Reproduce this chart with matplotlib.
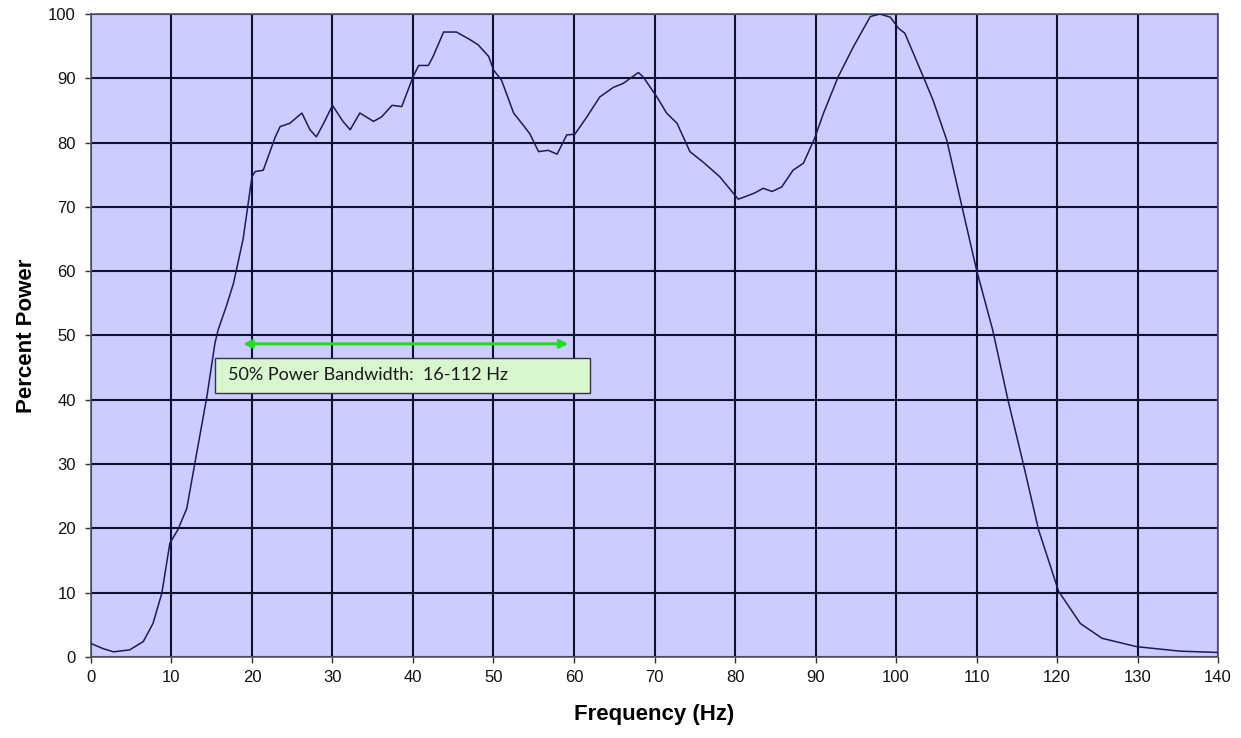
import matplotlib
matplotlib.use("Agg")
import matplotlib.pyplot as plt
from matplotlib.patches import FancyBboxPatch

# Data
freq_hz = [0, 1.5, 2.8, 4.8, 6.5, 7.7, 8.8, 9.8, 10.8, 11.9, 12.9, 14.4, 15.4, 15.8,
           16.8, 17.7, 18.9, 20.0, 20.4, 21.4, 22.9, 23.5, 24.7, 26.2, 27.2, 28.0,
           28.9, 30.0, 31.3, 32.2, 33.4, 35.1, 36.1, 37.4, 38.6, 40.0, 40.7, 41.9,
           42.5, 43.8, 45.4, 47.1, 48.1, 49.4, 50.0, 51.0, 52.5, 53.7, 54.5, 55.6,
           56.8, 57.9, 59.1, 60.1, 61.6, 63.2, 64.9, 66.1, 68.0, 68.6, 70.3, 71.5,
           72.8, 74.4, 76.1, 78.1, 80.4, 81.5, 82.5, 83.5, 84.6, 85.8, 87.2, 88.5,
           89.9, 91.0, 92.8, 94.7, 96.8, 98.0, 99.3, 100.3, 101.1, 103.4, 104.6,
           106.3, 108.2, 110.0, 112.0, 113.9, 115.8, 117.7, 120.2, 122.9, 125.6,
           129.9, 135.3, 140.0]
percent_power = [2.1, 1.3, 0.8, 1.1, 2.4, 5.2, 9.9, 17.7, 19.8, 23.1, 30.1, 40.5, 48.8, 50.9,
                 54.5, 58.1, 65.0, 74.7, 75.5, 75.7, 80.9, 82.5, 83.0, 84.6, 82.0, 80.9,
                 83.0, 85.8, 83.3, 82.0, 84.6, 83.3, 84.0, 85.8, 85.6, 90.2, 92.0, 92.0,
                 93.4, 97.2, 97.2, 96.0, 95.2, 93.4, 91.3, 89.7, 84.6, 82.7, 81.4, 78.6,
                 78.8, 78.2, 81.2, 81.3, 84.0, 87.1, 88.6, 89.2, 90.9, 90.2, 87.1, 84.6,
                 83.0, 78.6, 76.9, 74.7, 71.2, 71.7, 72.2, 72.9, 72.4, 73.1, 75.7, 76.8,
                 80.7, 84.6, 90.2, 94.9, 99.6, 100.0, 99.5, 97.8, 97.0, 90.2, 86.6,
                 80.4, 70.0, 60.2, 50.9, 40.0, 30.1, 19.8, 10.2, 5.2, 2.9,
                 1.6, 0.9, 0.7]

x_ticks = list(range(0, 141, 10))
y_ticks = list(range(0, 101, 10))
annotation_text = "50% Power Bandwidth:  16-112 Hz"
arrow_x = [18.9, 59.3]
arrow_y = 48.7

fig = plt.figure(figsize=(12.41, 7.38), dpi=100)
ax = fig.add_axes([0.0733, 0.1098, 0.9082, 0.8712])
ax.set_facecolor("#ccccff")

ax.plot(freq_hz, percent_power, color="#1a1a5e", lw=1.1, zorder=3)

ax.set_xlim(0, 140)
ax.set_ylim(0, 100)
ax.set_xticks(x_ticks)
ax.set_yticks(y_ticks)
ax.grid(True, color="#10102e", lw=1.5, zorder=1)
ax.set_axisbelow(True)

for s in ax.spines.values():
    s.set_color("#555566")
    s.set_linewidth(1.2)

ax.tick_params(axis="both", direction="out", length=4.3, width=1, color="#333333",
               labelsize=12, labelcolor="#111111")
ax.tick_params(axis="x", pad=5)
ax.tick_params(axis="y", pad=6.5)
for lab in ax.get_xticklabels() + ax.get_yticklabels():
    lab.set_fontfamily("Liberation Sans")

ax.set_xlabel("Frequency (Hz)", fontsize=16, fontweight="bold",
              fontfamily="Liberation Sans")
ax.set_ylabel("Percent Power", fontsize=16, fontweight="bold",
              fontfamily="Liberation Sans")
ax.xaxis.set_label_coords(0.5, -0.073)
ax.yaxis.set_label_coords(-0.048, 0.5)

# annotation box
box = FancyBboxPatch((15.4, 41.1), 46.6, 5.4, boxstyle="square,pad=0",
                     facecolor="#d9f7cf", edgecolor="#333344", lw=1.0, zorder=4)
ax.add_patch(box)
ax.text(17.0, 43.8, annotation_text, fontsize=13, fontfamily="Lato",
        color="#1a1a1a", va="center", ha="left", zorder=5)

ax.annotate("", xy=(arrow_x[0], arrow_y), xytext=(arrow_x[1], arrow_y),
            arrowprops=dict(arrowstyle="<|-|>", color="#22dd22", lw=2.2,
                            mutation_scale=12, shrinkA=0, shrinkB=0), zorder=5)

fig.savefig("out.png", dpi=100)
